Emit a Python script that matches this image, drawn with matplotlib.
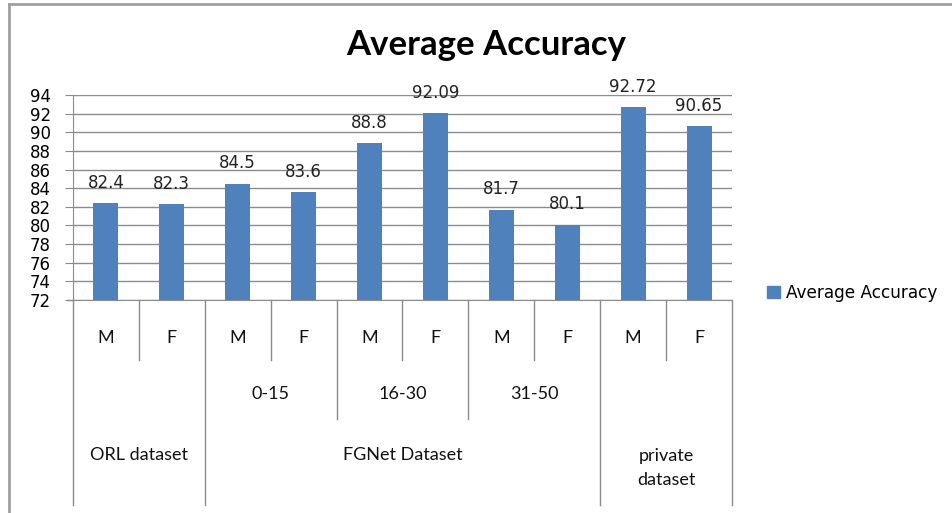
#!/usr/bin/env python3
import matplotlib
matplotlib.use('Agg')
import matplotlib.pyplot as plt
from matplotlib import transforms
from matplotlib.lines import Line2D
from matplotlib.patches import Patch

# data
genders = ['M', 'F', 'M', 'F', 'M', 'F', 'M', 'F', 'M', 'F']
accuracy = [82.4, 82.3, 84.5, 83.6, 88.8, 92.09, 81.7, 80.1, 92.72, 90.65]
age_groups = ['', '0-15', '16-30', '31-50', '']
datasets = ['ORL dataset', 'FGNet Dataset', 'private\ndataset']
dataset_sizes = [2, 6, 2]
series_name = 'Average Accuracy'

BAR = '#4f81bd'
GRID = '#8c8c8c'
W, H = 953, 513


def fy(px):
    # pixel row from the top -> figure fraction
    return 1 - px / H


fig = plt.figure(figsize=(W / 100, H / 100), dpi=100)
ax = fig.add_axes([73 / W, fy(300), (732 - 73) / W, (300 - 95) / H])

x = list(range(len(accuracy)))
ax.bar(x, accuracy, width=0.38, color=BAR, zorder=3)
ax.set_xlim(-0.5, len(accuracy) - 0.5)
ax.set_ylim(72, 94)
ax.set_yticks(range(72, 95, 2))
ax.yaxis.grid(True, color=GRID, lw=1, zorder=0)
ax.set_xticks([])
for s in ['top', 'right']:
    ax.spines[s].set_visible(False)
for s in ['left', 'bottom']:
    ax.spines[s].set_color(GRID)
ax.tick_params(axis='y', length=6, color=GRID, pad=10, labelsize=12,
               labelcolor='#000000')

for xi, v in zip(x, accuracy):
    ax.annotate(f'{v:g}', (xi, v), xytext=(0, 14.5), textcoords='offset points',
                ha='center', va='center', fontsize=12, color='#222222')

# multi-level category axis
tr = transforms.blended_transform_factory(ax.transData, fig.transFigure)


def vline(xv, y0, y1):
    ax.add_line(Line2D([xv, xv], [fy(y0), fy(y1)], transform=tr, color=GRID,
                       lw=1, clip_on=False))


cat_font = dict(family='Lato', fontsize=13, color='#111111', ha='center',
                va='center', transform=tr)
for xi, g in zip(x, genders):
    ax.text(xi, fy(338), g, **cat_font)
for k in range(0, len(x), 2):
    vline(k + 0.5, 300, 360)

# age groups (two bars each)
for i, lab in enumerate(age_groups):
    if lab:
        ax.text(2 * i + 0.5, fy(394), lab, **cat_font)
vline(3.5, 300, 419)
vline(5.5, 300, 419)

# datasets
start = -0.5
vline(start, 300, 505)
for lab, n in zip(datasets, dataset_sizes):
    mid = start + n / 2
    ax.text(mid, fy(455) if '\n' not in lab else fy(468), lab,
            linespacing=1.6, **cat_font)
    start += n
    vline(start, 300, 505)

ax.plot([-0.5 - 6 / 66, -0.5], [72, 72], color=GRID, lw=1, clip_on=False)

fig.legend(handles=[Patch(color=BAR, label=series_name)], loc='center left',
           bbox_to_anchor=(752 / W, fy(293)), frameon=False, fontsize=12.2,
           handlelength=0.75, handleheight=0.75, handletextpad=0.35)

fig.text(486 / W, fy(45), 'Average Accuracy', family='Lato', weight='bold',
         fontsize=25, ha='center', va='center', color='#000000')

# outer chart border (partly cropped in the reference)
fig.add_artist(Line2D([9 / W, 1.01], [fy(4), fy(4)], color='#a0a0a0', lw=2))
fig.add_artist(Line2D([9 / W, 9 / W], [fy(4), -0.01], color='#a0a0a0', lw=2))

fig.savefig('out.png', dpi=100, facecolor='white')
